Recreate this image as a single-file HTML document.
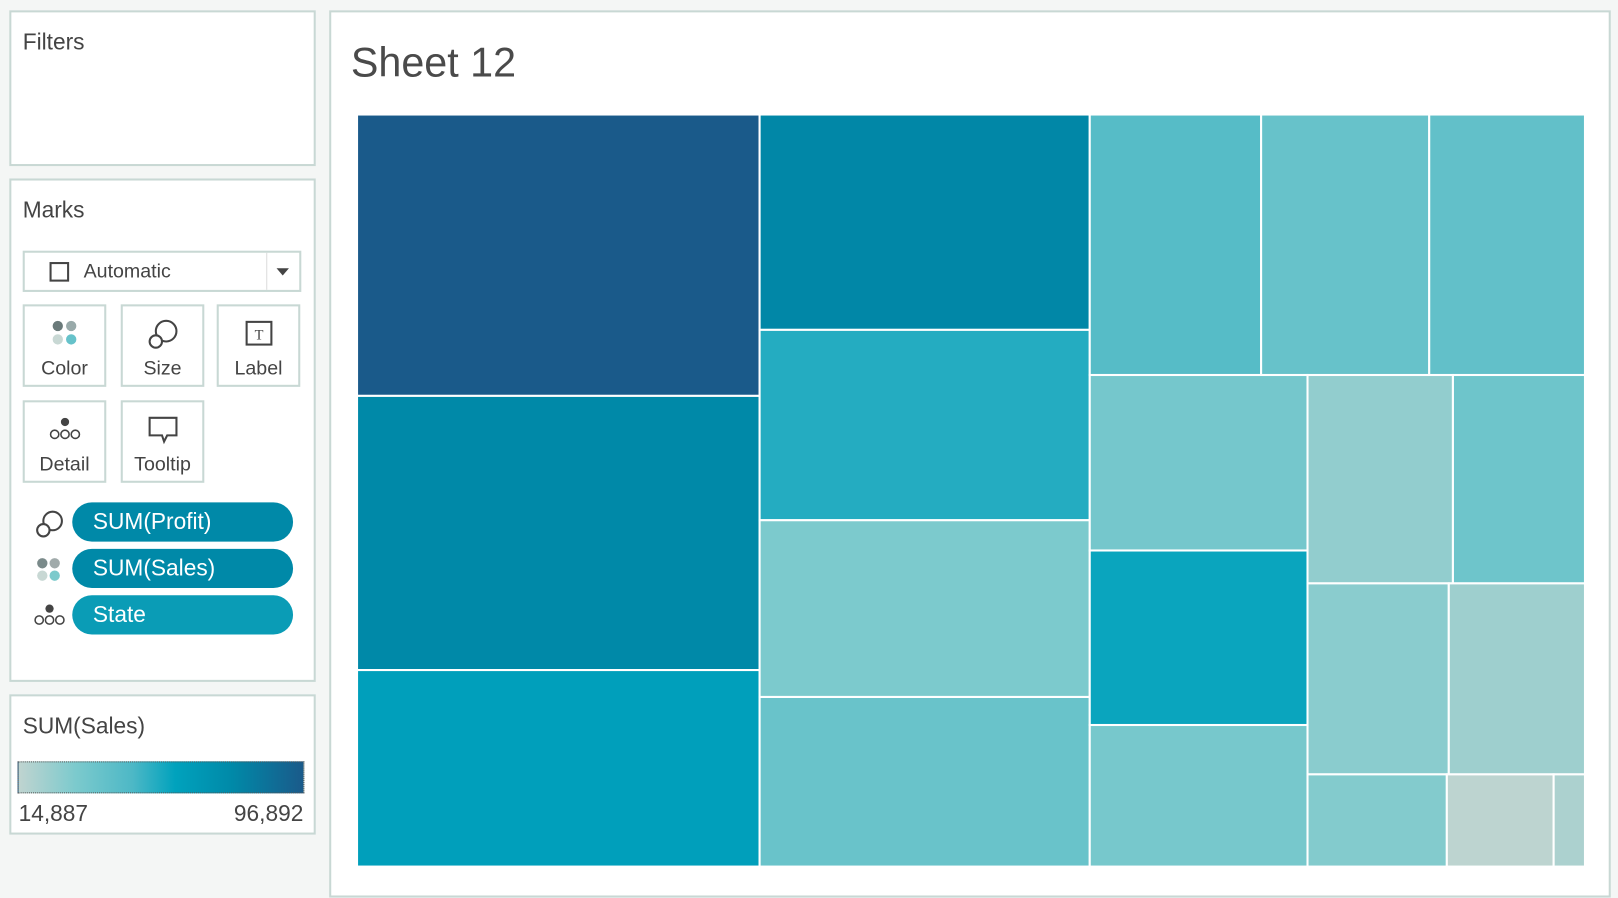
<!DOCTYPE html>
<html><head><meta charset="utf-8">
<style>
html,body{margin:0;padding:0;width:1618px;height:880px;overflow:hidden;background:#f4f6f5;font-family:"Liberation Sans",sans-serif;color:#444;}
#stage{position:absolute;left:0;top:0;width:1568px;height:853px;transform-origin:0 0;transform:scale(1.03189,1.03165);}
.panel{position:absolute;background:#fff;border:2px solid #c8d8d4;box-sizing:border-box;}
.ptitle{position:absolute;left:11px;font-size:22px;color:#444;}
.btn{position:absolute;width:81px;height:80px;border:2px solid #c8d8d4;box-sizing:border-box;background:#fff;text-align:center;font-size:19px;color:#444;}
.btn span{position:absolute;left:0;right:0;bottom:4px;}
.btn svg{position:absolute;left:50%;top:12px;transform:translateX(-50%);}
.pill{position:absolute;left:59px;width:214px;height:38px;border-radius:19px;background:#0089a8;color:#fff;font-size:22px;line-height:38px;box-sizing:border-box;padding-left:20px;}
.picon{position:absolute;}
</style></head><body>
<div id="stage">
  <div class="panel" style="left:9px;top:10px;width:297px;height:151px">
    <div class="ptitle" style="top:16px">Filters</div>
  </div>
  <div class="panel" style="left:9px;top:173px;width:297px;height:488px">
    <div class="ptitle" style="top:16px">Marks</div>
    <div style="position:absolute;left:11px;top:68px;width:270px;height:40px;border:2px solid #c8d8d4;box-sizing:border-box">
      <div style="position:absolute;left:24px;top:9px;width:15px;height:15px;border:2px solid #444"></div>
      <div style="position:absolute;left:57px;top:8px;font-size:19px">Automatic</div>
      <div style="position:absolute;left:234px;top:0;width:1px;height:36px;background:#ddd"></div>
      <div style="position:absolute;left:244px;top:15px;width:0;height:0;border-left:6px solid transparent;border-right:6px solid transparent;border-top:7px solid #444"></div>
    </div>
    <div class="btn" style="left:11px;top:120px">
      <svg width="30" height="30" viewBox="0 0 30 30"><circle cx="8" cy="7" r="5" fill="#6a7a7a"/><circle cx="21" cy="7" r="5" fill="#9aa"/><circle cx="8" cy="20" r="5" fill="#c8d8d4"/><circle cx="21" cy="20" r="5" fill="#66c2ca"/></svg><span>Color</span></div>
    <div class="btn" style="left:106px;top:120px">
      <svg width="32" height="32" viewBox="0 0 32 32"><circle cx="19" cy="12" r="10" fill="none" stroke="#444" stroke-width="2"/><circle cx="9" cy="22" r="6" fill="#fff" stroke="#444" stroke-width="2"/></svg><span>Size</span></div>
    <div class="btn" style="left:199px;top:120px">
      <svg width="30" height="30" viewBox="0 0 30 30"><rect x="3" y="3" width="24" height="22" fill="none" stroke="#444" stroke-width="2"/><text x="15" y="20" font-size="14" text-anchor="middle" font-family="Liberation Serif" fill="#444">T</text></svg><span>Label</span></div>
    <div class="btn" style="left:11px;top:213px">
      <svg width="34" height="30" viewBox="0 0 34 30"><circle cx="17" cy="7" r="4" fill="#444"/><circle cx="7" cy="19" r="4" fill="none" stroke="#444" stroke-width="1.5"/><circle cx="17" cy="19" r="4" fill="none" stroke="#444" stroke-width="1.5"/><circle cx="27" cy="19" r="4" fill="none" stroke="#444" stroke-width="1.5"/></svg><span>Detail</span></div>
    <div class="btn" style="left:106px;top:213px">
      <svg width="32" height="30" viewBox="0 0 32 30"><path d="M3 3 H29 V20 H20 L17 26 L15 20 H3 Z" fill="none" stroke="#444" stroke-width="2"/></svg><span>Tooltip</span></div>
    <svg class="picon" style="top:318px;left:22px" width="30" height="30" viewBox="0 0 30 30"><circle cx="18" cy="12" r="9" fill="none" stroke="#444" stroke-width="2"/><circle cx="9" cy="21" r="6" fill="#fff" stroke="#444" stroke-width="2"/></svg>
    <div class="pill" style="top:312px">SUM(Profit)</div>
    <svg class="picon" style="top:363px;left:22px" width="30" height="30" viewBox="0 0 30 30"><circle cx="8" cy="8" r="5" fill="#7a8a8a"/><circle cx="20" cy="8" r="5" fill="#a0aaaa"/><circle cx="8" cy="20" r="5" fill="#c8d8d4"/><circle cx="20" cy="20" r="5" fill="#7ccacc"/></svg>
    <div class="pill" style="top:357px">SUM(Sales)</div>
    <svg class="picon" style="top:407px;left:20px" width="34" height="30" viewBox="0 0 34 30"><circle cx="17" cy="8" r="4" fill="#444"/><circle cx="7" cy="19" r="4" fill="none" stroke="#444" stroke-width="1.5"/><circle cx="17" cy="19" r="4" fill="none" stroke="#444" stroke-width="1.5"/><circle cx="27" cy="19" r="4" fill="none" stroke="#444" stroke-width="1.5"/></svg>
    <div class="pill" style="top:402px;background:#0a9cb6">State</div>
  </div>
  <div class="panel" style="left:9px;top:673px;width:297px;height:136px">
    <div class="ptitle" style="top:16px">SUM(Sales)</div>
    <div style="position:absolute;left:6px;top:63px;width:278px;height:31px;border:1px dotted #555;box-sizing:border-box;background:linear-gradient(to right,#c0d4d0 0%,#7ccacd 20%,#4db8c6 40%,#00a2bd 55%,#0089a8 75%,#1a5a8a 100%)"></div>
    <div style="position:absolute;left:7px;top:101px;font-size:22px">14,887</div>
    <div style="position:absolute;right:10px;top:101px;font-size:22px">96,892</div>
  </div>
  <div class="panel" style="left:319px;top:10px;width:1242px;height:860px">
    <div style="position:absolute;left:19px;top:27px;font-size:40px;color:#4a4a4a">Sheet 12</div>
  </div>
  <svg id="tm" style="position:absolute;left:0;top:0" width="1568" height="853"></svg>
</div>
<script>
const states = ["California","New York","Washington","Pennsylvania","Texas","Michigan","Virginia","Indiana","Georgia","Kentucky","Minnesota","Delaware","New Jersey","Wisconsin","Rhode Island","Maryland","Massachusetts","Missouri","Alabama","Oklahoma"];
const profit = [10580,10310,7390,6640,5870,5450,5230,4170,4090,3790,3570,3550,2880,2830,2570,2520,2430,1200,920,270];
const sales = [96892,76391,61630,77210,54250,31290,37850,44410,38670,40310,33750,58350,32930,26000,36210,28010,23090,29650,15700,19800];
const salesMin = 14887, salesMax = 96892;
const stopsT = [0,0.2,0.4,0.55,0.75,1];
const stopsC = [[192,212,208],[124,202,205],[77,184,198],[0,162,189],[0,137,168],[26,90,138]];
function colorScale(v){
  let t=(v-salesMin)/(salesMax-salesMin);t=Math.max(0,Math.min(1,t));
  for(let i=1;i<stopsT.length;i++){if(t<=stopsT[i]){const f=(t-stopsT[i-1])/(stopsT[i]-stopsT[i-1]);const a=stopsC[i-1],b=stopsC[i];return `rgb(${a.map((x,k)=>Math.round(x+(b[k]-x)*f)).join(',')})`;}}
  return 'rgb(26,90,138)';
}
const layout={dir:'h',children:[{dir:'v',items:[0,1,2]},{dir:'v',items:[3,4,5,6]},{dir:'v',children:[{dir:'h',items:[7,8,9]},{dir:'h',children:[{dir:'v',items:[10,11,12]},{dir:'v',children:[{dir:'h',items:[13,14]},{dir:'h',items:[15,16]},{dir:'h',items:[17,18,19]}]}]}]}]};
function sum(n){return n.items?n.items.reduce((s,i)=>s+profit[i],0):n.children.reduce((s,c)=>s+sum(c),0);}
const svg=document.getElementById('tm');const NS='http://www.w3.org/2000/svg';
function place(n,x,y,w,h){
  const kids=n.items?n.items.map(i=>({leaf:i})):n.children;
  const tot=sum(n);let off=0;
  kids.forEach(k=>{
    const v=k.leaf!==undefined?profit[k.leaf]:sum(k);const f=v/tot;
    let cx,cy,cw,ch;
    if(n.dir==='h'){cx=x+off*w;cy=y;cw=f*w;ch=h;}else{cx=x;cy=y+off*h;cw=w;ch=f*h;}
    off+=f;
    if(k.leaf!==undefined){
      const r=document.createElementNS(NS,'rect');
      r.setAttribute('x',cx);r.setAttribute('y',cy);r.setAttribute('width',cw);r.setAttribute('height',ch);
      r.setAttribute('fill',colorScale(sales[k.leaf]));r.setAttribute('stroke','#fff');r.setAttribute('stroke-width','2');
      
      
      const t=document.createElementNS(NS,'title');t.textContent=states[k.leaf];r.appendChild(t);
      svg.appendChild(r);
    } else place(k,cx,cy,cw,ch);
  });
}
place(layout,346,111,1190,729);
</script>
</body></html>
